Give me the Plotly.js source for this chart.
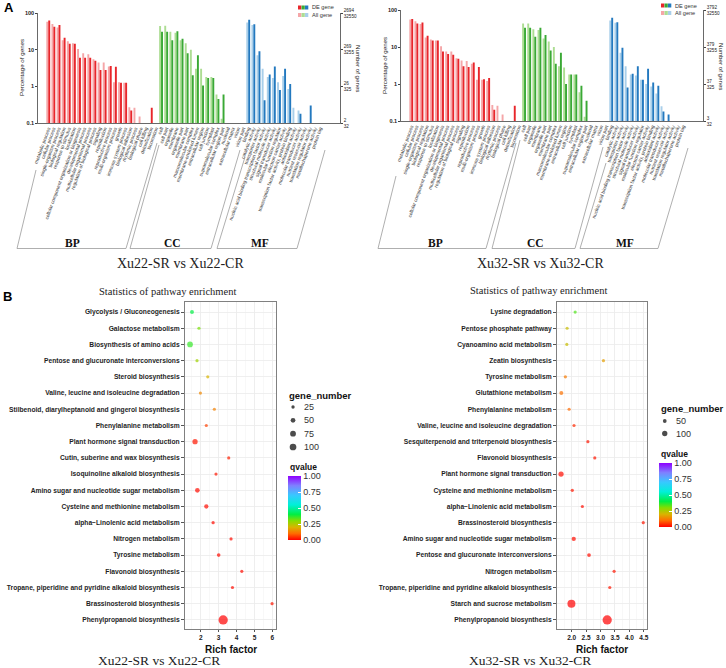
<!DOCTYPE html>
<html>
<head>
<meta charset="utf-8">
<script src="https://cdn.plot.ly/plotly-3.0.1.min.js"></script>
<style>
html, body { margin: 0; padding: 0; background: #fff; }
#fig { width: 726px; height: 668px; }
</style>
</head>
<body>
<div id="fig"></div>
<script>
// GO level-2 terms, in the order of the bars
var bpTerms = ['metabolic process', 'cellular process', 'single-organism process', 'biological regulation',
    'response to stimulus', 'localization', 'cellular component organization or biogenesis', 'developmental process',
    'multicellular organismal process', 'regulation of biological process', 'signaling', 'reproduction',
    'reproductive process', 'multi-organism process', 'growth', 'immune system process', 'biological adhesion',
    'rhythmic process', 'biological phase', 'cell killing', 'detoxification', 'locomotion'];
var ccTerms = ['cell', 'cell part', 'organelle', 'membrane', 'organelle part', 'membrane part', 'macromolecular complex',
    'membrane-enclosed lumen', 'extracellular region', 'cell junction', 'symplast', 'supramolecular complex',
    'extracellular region part', 'nucleoid', 'extracellular matrix', 'virion', 'virion part'];
var mfTerms = ['binding', 'catalytic activity', 'transporter activity', 'nucleic acid binding transcription factor activity',
    'structural molecule activity', 'signal transducer activity', 'molecular function regulator', 'electron carrier activity',
    'transcription factor activity, protein binding', 'antioxidant activity', 'molecular transducer activity',
    'nutrient reservoir activity', 'translation regulator activity', 'metallochaperone activity', 'protein tag'];

// percentage of genes, Xu22-SR vs Xu22-CR (All gene = light, DE gene = dark)
var xu22AllBP = [58, 50, 40, 18, 17, 15, 10.5, 8, 7.5, 5.5, 4.5, 4.5, 3.5, 1.3, 1.3, 1.25, 0.27, 0.26, 0.15, null, null, null];
var xu22DeBP  = [62, 42, 47, 21, 14.5, 14.5, 6, 6, 6, 5, 2.8, 2.8, 3.6, 3.4, 1.25, 1.25, 0.22, null, null, null, 0.26, null];
var xu22AllCC = [44, 45, 31, 29, 18, 15, 10, 3, 3, 1.8, 1.8, 0.6, 0.13, 0.1, null, null, null];
var xu22DeCC  = [31, 31, 18, 32, 20, 8, 2, 7, 1.05, 1.7, 1.7, 0.45, 0.6, null, null, null, null];
var xu22AllMF = [55, 47, 7, 3, 1.8, 1.7, 1.3, 1.9, 0.85, 0.26, 0.22, null, null, null, null];
var xu22DeMF  = [65, 49, 9, 0.42, 2.1, 3.5, 0.8, 3.0, 1.15, null, 0.18, null, 0.3, null, null];

// percentage of genes, Xu32-SR vs Xu32-CR
var xu32AllBP = [55, 50, 42, 18, 16, 15, 10.5, 7.5, 7.5, 5, 4.3, 4.2, 3.5, 1.3, 1.3, 1.2, 0.27, 0.26, 0.15, null, null, null];
var xu32DeBP  = [57, 43, 46, 20, 15, 15, 7.5, 6.5, 6.2, 4.8, 3, 2.9, 3.8, 2.9, 1.35, 1.45, 0.2, null, null, null, 0.26, null];
var xu32AllCC = [43, 43, 30, 29, 17, 14, 10, 3, 2.8, 1.8, 1.8, 0.6, 0.13, 0.1, null, null, null];
var xu32DeCC  = [33, 33, 19, 33, 21, 8, 3.5, 7, 1.0, 1.8, 1.8, 0.9, 0.35, null, null, null, null];
var xu32AllMF = [52, 45, 7, 3, 1.8, 1.7, 1.3, 1.0, 0.85, 0.55, 0.25, null, null, null, null];
var xu32DeMF  = [62, 47, 9.5, 0.8, 1.9, 3.0, 1.3, 2.6, 1.1, 0.9, 0.18, 0.15, null, null, null];

var pctTicks = [100, 10, 1, 0.1];
var pctLabels = ['100', '10', '1', '0.1'];
var xu22NumTicks = ['2694<br>32550', '269<br>3255', '26<br>325', '2<br>32'];
var xu32NumTicks = ['3792<br>32550', '379<br>3255', '37<br>325', '3<br>32'];

// KEGG enrichment, Xu22 (top to bottom)
var xu22Pathways = ['Glycolysis / Gluconeogenesis', 'Galactose metabolism', 'Biosynthesis of amino acids',
    'Pentose and glucuronate interconversions', 'Steroid biosynthesis', 'Valine, leucine and isoleucine degradation',
    'Stilbenoid, diarylheptanoid and gingerol biosynthesis', 'Phenylalanine metabolism',
    'Plant hormone signal transduction', 'Cutin, suberine and wax biosynthesis', 'Isoquinoline alkaloid biosynthesis',
    'Amino sugar and nucleotide sugar metabolism', 'Cysteine and methionine metabolism',
    'alpha\u2212Linolenic acid metabolism', 'Nitrogen metabolism', 'Tyrosine metabolism', 'Flavonoid biosynthesis',
    'Tropane, piperidine and pyridine alkaloid biosynthesis', 'Brassinosteroid biosynthesis',
    'Phenylpropanoid biosynthesis'];
var xu22Rich  = [1.51, 1.9, 1.4, 1.79, 2.39, 1.98, 2.76, 2.31, 1.68, 3.56, 2.85, 1.81, 2.31, 2.69, 3.69, 3.0, 4.29, 3.77, 5.98, 3.25];
var xu22Genes = [35, 12, 72, 20, 6, 16, 6, 20, 62, 6, 9, 49, 41, 24, 12, 30, 12, 20, 6, 192];
var xu22Q     = [0.4, 0.31, 0.36, 0.27, 0.2, 0.14, 0.13, 0.06, 0.02, 0.03, 0.02, 0.01, 0.01, 0.01, 0.01, 0.01, 0.01, 0.01, 0.02, 0.0];

// KEGG enrichment, Xu32 (top to bottom)
var xu32Pathways = ['Lysine degradation', 'Pentose phosphate pathway', 'Cyanoamino acid metabolism',
    'Zeatin biosynthesis', 'Tyrosine metabolism', 'Glutathione metabolism', 'Phenylalanine metabolism',
    'Valine, leucine and isoleucine degradation', 'Sesquiterpenoid and triterpenoid biosynthesis',
    'Flavonoid biosynthesis', 'Plant hormone signal transduction', 'Cysteine and methionine metabolism',
    'alpha\u2212Linolenic acid metabolism', 'Brassinosteroid biosynthesis', 'Amino sugar and nucleotide sugar metabolism',
    'Pentose and glucuronate interconversions', 'Nitrogen metabolism',
    'Tropane, piperidine and pyridine alkaloid biosynthesis', 'Starch and sucrose metabolism',
    'Phenylpropanoid biosynthesis'];
var xu32Rich  = [2.12, 1.84, 1.83, 3.1, 1.78, 1.64, 1.91, 2.08, 2.56, 2.8, 1.63, 2.02, 2.37, 4.48, 2.07, 2.6, 3.47, 3.32, 1.99, 3.23];
var xu32Genes = [10, 26, 26, 10, 39, 57, 32, 32, 14, 14, 100, 39, 32, 10, 66, 49, 19, 26, 227, 307];
var xu32Q     = [0.34, 0.22, 0.22, 0.17, 0.12, 0.11, 0.1, 0.04, 0.02, 0.02, 0.01, 0.02, 0.01, 0.02, 0.01, 0.01, 0.02, 0.02, 0.0, 0.0];

var xu22SizeKeys = [25, 50, 75, 100];
var xu32SizeKeys = [50, 100];
var xu22RichTicks = [2, 3, 4, 5, 6];
var xu32RichTicks = [2, 2.5, 3, 3.5, 4, 4.5];

// ---------------------------------------------------------------
var W = 726, H = 668;
function px(x) { return x / W; }
function py(y) { return 1 - y / H; }

var serif = 'Liberation Serif, Times New Roman, serif';
var sans = 'Liberation Sans, Arial, sans-serif';
var goColors = [['#f5a6a8', '#e8262b'], ['#addd93', '#3aa935'], ['#a9cfea', '#2379bf']];
var qScale = [[0, '#ff0000'], [0.1, '#ff6a00'], [0.2, '#d9b400'], [0.3, '#86dd00'], [0.4, '#00ee44'],
    [0.55, '#00f0d8'], [0.7, '#38c8ff'], [0.85, '#7f80ff'], [1, '#8f00ff']];

function goBars(allSets, deSets, xa, ya, ya2) {
    var terms = bpTerms.concat(ccTerms, mfTerms);
    var light = [], dark = [];
    [bpTerms, ccTerms, mfTerms].forEach(function (t, i) {
        t.forEach(function () { light.push(goColors[i][0]); dark.push(goColors[i][1]); });
    });
    return [
        { type: 'bar', x: terms, y: [].concat.apply([], allSets), xaxis: xa, yaxis: ya,
          marker: { color: light, line: { width: 0 } }, hoverinfo: 'x+y' },
        { type: 'bar', x: terms, y: [].concat.apply([], deSets), xaxis: xa, yaxis: ya,
          marker: { color: dark, line: { width: 0 } }, hoverinfo: 'x+y' },
        // invisible trace so the right-hand "Number of genes" axis gets drawn
        { type: 'scatter', mode: 'markers', x: [terms[0]], y: [pctTicks[2]], xaxis: xa, yaxis: ya2,
          marker: { opacity: 0 }, hoverinfo: 'skip' }
    ];
}

function bubbles(rich, paths, genes, q, xa, ya, sref, cb) {
    return {
        type: 'scatter', mode: 'markers', x: rich, y: paths, xaxis: xa, yaxis: ya,
        marker: {
            size: genes, sizemode: 'area', sizeref: sref, sizemin: 1.6,
            color: q, cmin: 0, cmax: 1, colorscale: qScale, line: { width: 0 },
            showscale: true,
            colorbar: Object.assign({
                lenmode: 'pixels', len: 64, thickness: 12.5, thicknessmode: 'pixels',
                xanchor: 'left', yanchor: 'bottom', xpad: 0, ypad: 0, outlinewidth: 0,
                tickvals: [0, 0.25, 0.5, 0.75, 1], ticktext: ['0.00', '0.25', '0.50', '0.75', '1.00'],
                ticks: 'inside', tickcolor: '#fff', ticklen: 3,
                tickfont: { family: sans, size: 9, color: '#333' }
            }, cb)
        }
    };
}

function sizeKey(keys, xa, ya, sref) {
    return {
        type: 'scatter', mode: 'markers', x: keys.map(function () { return 1.4; }),
        y: keys.map(function (k, i) { return i; }), xaxis: xa, yaxis: ya,
        marker: { size: keys, sizemode: 'area', sizeref: sref, color: '#000', line: { width: 0 } },
        hoverinfo: 'skip'
    };
}

var data = [].concat(
    goBars([xu22AllBP, xu22AllCC, xu22AllMF], [xu22DeBP, xu22DeCC, xu22DeMF], 'x', 'y', 'y2'),
    goBars([xu32AllBP, xu32AllCC, xu32AllMF], [xu32DeBP, xu32DeCC, xu32DeMF], 'x3', 'y3', 'y4'),
    [bubbles(xu22Rich, xu22Pathways, xu22Genes, xu22Q, 'x5', 'y5', 4.46, { x: px(287.7), y: py(540) }),
     bubbles(xu32Rich, xu32Pathways, xu32Genes, xu32Q, 'x6', 'y6', 7.1, { x: px(659), y: py(527) }),
     sizeKey(xu22SizeKeys, 'x7', 'y7', 4.46),
     sizeKey(xu32SizeKeys, 'x8', 'y8', 7.1)]
);

// axis templates
function goX(dom, anchor) {
    return { domain: dom, anchor: anchor, type: 'category', range: [-2, 56.9], tickmode: 'linear', tick0: 0, dtick: 1,
             tickangle: -70, tickfont: { family: sans, size: 4.8, color: '#333' }, ticks: '',
             showline: true, linecolor: '#444', linewidth: 0.8, showgrid: false, fixedrange: true };
}
function goY(dom, anchor) {
    return { domain: dom, anchor: anchor, type: 'log', range: [-1, 2], tickvals: pctTicks, ticktext: pctLabels,
             ticks: 'outside', ticklen: 2, tickcolor: '#444', tickfont: { family: sans, size: 5.5, color: '#222', weight: 'bold' },
             showline: true, linecolor: '#444', linewidth: 0.8, showgrid: false, zeroline: false };
}
function goY2(over, anchor, labels) {
    return { overlaying: over, anchor: anchor, side: 'right', type: 'log', range: [-1, 2], tickvals: pctTicks,
             ticktext: labels, ticks: 'outside', ticklen: 2, tickcolor: '#444',
             tickfont: { family: sans, size: 4.6, color: '#222' },
             showline: true, linecolor: '#444', linewidth: 0.8, showgrid: false, zeroline: false };
}
function bubX(dom, anchor, rng, tv, mdt, fmt) {
    return { domain: dom, anchor: anchor, range: rng, tickmode: 'array', tickvals: tv,
             ticktext: tv.map(function (v) { return fmt ? v.toFixed(1) : String(v); }),
             ticks: 'outside', ticklen: 2, tickcolor: '#555',
             tickfont: { family: sans, size: 6.5, color: '#222', weight: 'bold' },
             showgrid: true, gridcolor: '#ebebeb', gridwidth: 0.8, zeroline: false,
             minor: { tickmode: 'linear', tick0: 0, dtick: mdt, showgrid: true, gridcolor: '#f4f4f4', gridwidth: 0.6 },
             showline: true, mirror: true, linecolor: '#808080', linewidth: 1 };
}
function bubY(dom, anchor, cats) {
    return { domain: dom, anchor: anchor, type: 'category', categoryarray: cats, categoryorder: 'array',
             range: [19.56, -0.62], tickmode: 'linear', tick0: 0, dtick: 1,
             ticks: 'outside', ticklen: 3, tickcolor: '#555',
             tickfont: { family: sans, size: 6.7, color: '#1e1e1e', weight: 'bold' },
             showgrid: true, gridcolor: '#ebebeb', gridwidth: 0.8,
             showline: true, mirror: true, linecolor: '#808080', linewidth: 1 };
}
function hidden(dom, anchor, rng) {
    return { domain: dom, anchor: anchor, range: rng, visible: false, fixedrange: true };
}

var layout = {
    width: W, height: H,
    margin: { l: 0, r: 0, t: 0, b: 0 },
    paper_bgcolor: '#fff', plot_bgcolor: '#fff',
    showlegend: false,
    barmode: 'group', bargap: 0.25, bargroupgap: 0,
    font: { family: sans, color: '#222' },

    xaxis: goX([px(38), px(340)], 'y'),
    yaxis: goY([py(123), py(13)], 'x'),
    yaxis2: goY2('y', 'x', xu22NumTicks),
    xaxis3: goX([px(401), px(703)], 'y3'),
    yaxis3: goY([py(121), py(10)], 'x3'),
    yaxis4: goY2('y3', 'x3', xu32NumTicks),

    xaxis5: bubX([px(185), px(276)], 'y5', [1.12, 6.2], xu22RichTicks, 0.5, false),
    yaxis5: bubY([py(629), py(302)], 'x5', xu22Pathways),
    xaxis6: bubX([px(557), px(647)], 'y6', [1.49, 4.61], xu32RichTicks, 0.25, true),
    yaxis6: bubY([py(629), py(302)], 'x6', xu32Pathways),

    xaxis7: hidden([px(287), px(330)], 'y7', [0, 10]),
    yaxis7: hidden([py(453.7), py(400.3)], 'x7', [3.5, -0.5]),
    xaxis8: hidden([px(659), px(700)], 'y8', [0, 10]),
    yaxis8: hidden([py(439.75), py(414.75)], 'x8', [1.5, -0.5]),

    shapes: [],
    annotations: []
};

function note(text, x, y, opt) {
    layout.annotations.push(Object.assign({
        text: text, x: px(x), y: py(y), xref: 'paper', yref: 'paper', showarrow: false,
        xanchor: 'center', yanchor: 'middle', font: { family: sans, size: 8, color: '#222' }
    }, opt || {}));
}
function seg(x0, y0, x1, y1, col) {
    layout.shapes.push({ type: 'line', xref: 'paper', yref: 'paper', x0: px(x0), y0: py(y0), x1: px(x1), y1: py(y1),
                         line: { color: col || '#9a9a9a', width: 0.8 } });
}
function box(x0, y0, x1, y1, col) {
    layout.shapes.push({ type: 'rect', xref: 'paper', yref: 'paper', x0: px(x0), y0: py(y0), x1: px(x1), y1: py(y1),
                         fillcolor: col, line: { width: 0 } });
}

// panel letters
note('A', 2, 8, { xanchor: 'left', font: { family: sans, size: 13, color: '#000', weight: 'bold' } });
note('B', 1, 297, { xanchor: 'left', font: { family: sans, size: 13, color: '#000', weight: 'bold' } });

// GO panels: axis titles, legend, brackets, captions
function goDecor(dx, dy, brackets, caption, labelX) {
    note('Percentage of genes', dx + 21, dy + 68, { textangle: -90, font: { family: sans, size: 6.2, color: '#222' } });
    note('Number of genes', dx + 359, dy + 68, { textangle: 90, font: { family: sans, size: 6.2, color: '#222' } });
    [0, 1, 2].forEach(function (i) {
        box(dx + 298 + i * 3.5, dy + 5.5, dx + 301.3 + i * 3.5, dy + 9.5, goColors[i][1]);
        box(dx + 298 + i * 3.5, dy + 13, dx + 301.3 + i * 3.5, dy + 17, goColors[i][0]);
    });
    note('DE gene', dx + 310, dy + 7.5, { xanchor: 'left', font: { family: sans, size: 5.6, color: '#333' } });
    note('All gene', dx + 310, dy + 15, { xanchor: 'left', font: { family: sans, size: 5.6, color: '#333' } });
    brackets.forEach(function (b) {
        seg(b[0], b[1], b[2], 248.5);
        seg(b[2], 248.5, b[3], 248.5);
        seg(b[3], 248.5, b[4], b[5]);
    });
    ['BP', 'CC', 'MF'].forEach(function (t, i) {
        note(t, labelX[i], 243, { font: { family: serif, size: 11.5, color: '#111', weight: 'bold' } });
    });
    note(caption, labelX[3], 263, { font: { family: serif, size: 14, color: '#222' } });
}
goDecor(0, 0, [[36, 170, 17, 126, 157, 143], [159, 145, 130, 211, 240, 150], [245, 157, 217, 297, 325, 150]],
        'Xu22-SR vs Xu22-CR', [72, 172, 260, 180]);
goDecor(363, -2, [[396, 176, 378, 486, 516, 143], [520, 140, 492, 575, 603, 147], [606, 163, 580, 658, 688, 148]],
        'Xu32-SR vs Xu32-CR', [435, 535, 625, 540]);

// bubble panels
note('Statistics of pathway enrichment', 167.5, 291, { font: { family: serif, size: 10.5, color: '#222' } });
note('Statistics of pathway enrichment', 538, 290, { font: { family: serif, size: 10.5, color: '#222' } });
note('Rich factor', 231, 641.5, { yanchor: 'top', font: { family: sans, size: 10, color: '#111', weight: 'bold' } });
note('Rich factor', 602, 641.5, { yanchor: 'top', font: { family: sans, size: 10, color: '#111', weight: 'bold' } });
note('Xu22-SR vs Xu22-CR', 159, 660.5, { font: { family: serif, size: 13.5, color: '#222' } });
note('Xu32-SR vs Xu32-CR', 530, 660.5, { font: { family: serif, size: 13.5, color: '#222' } });

note('gene_number', 287, 395, { xanchor: 'left', font: { family: sans, size: 9.5, color: '#111', weight: 'bold' } });
note('gene_number', 659, 408, { xanchor: 'left', font: { family: sans, size: 9.5, color: '#111', weight: 'bold' } });
note('qvalue', 287.5, 467, { xanchor: 'left', font: { family: sans, size: 8.5, color: '#111', weight: 'bold' } });
note('qvalue', 659, 454, { xanchor: 'left', font: { family: sans, size: 8.5, color: '#111', weight: 'bold' } });

xu22SizeKeys.forEach(function (k, i) {
    layout.annotations.push({ text: String(k), x: 3.4, y: i, xref: 'x7', yref: 'y7', showarrow: false,
        xanchor: 'left', yanchor: 'middle', font: { family: sans, size: 9, color: '#333' } });
});
xu32SizeKeys.forEach(function (k, i) {
    layout.annotations.push({ text: String(k), x: 3.6, y: i, xref: 'x8', yref: 'y8', showarrow: false,
        xanchor: 'left', yanchor: 'middle', font: { family: sans, size: 9, color: '#333' } });
});

Plotly.newPlot('fig', data, layout, { displayModeBar: false, staticPlot: true });
</script>
</body>
</html>
